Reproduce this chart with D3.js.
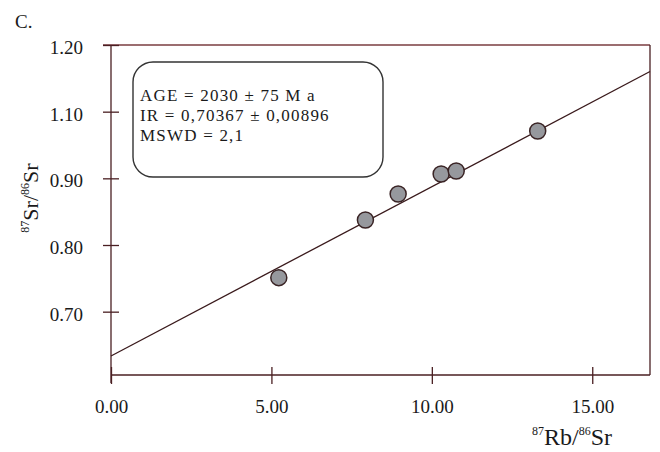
<!DOCTYPE html>
<html>
<head>
<meta charset="utf-8">
<script src="https://cdn.jsdelivr.net/npm/d3@7"></script>
<style>
  body { margin: 0; background: #fff; }
  text { font-family: "Liberation Serif", "Times New Roman", serif; fill: #1a1a1a; }
</style>
</head>
<body>
<svg id="isochron"></svg>
<script>
// data
const rbSr = [5.23, 7.93, 8.95, 10.29, 10.76, 13.30];
const srSr = [0.851, 0.9375, 0.9765, 1.0065, 1.011, 1.071];
const xTicks = [0, 5, 10, 15];
const xTickLabels = ['0.00', '5.00', '10.00', '15.00'];
const yTicks = [1.2, 1.1, 1.0, 0.9, 0.8];
const yTickLabels = ['1.20', '1.10', '0.90', '0.80', '0.70'];   // as printed on the original
const fitIntercept = 0.7335;
const fitSlope = 0.0254;
const infoLines = ['AGE = 2030 \u00b1 75 M a', 'IR = 0,70367 \u00b1 0,00896', 'MSWD = 2,1'];

const size = {w: 660, h: 452};
const plot = {l: 111, r: 650, t: 45, b: 375};
const axisColor = '#4a1f22';

const svg = d3.select('svg#isochron')
    .attr('width', size.w)
    .attr('height', size.h);

const x = d3.scaleLinear().domain([0, 16.8]).range([plot.l, plot.r]);
const y = d3.scaleLinear().domain([0.705, 1.2]).range([plot.b, plot.t]);

// frame
svg.append('line')
    .attr('x1', plot.l - 8).attr('x2', plot.r)
    .attr('y1', plot.t).attr('y2', plot.t)
    .attr('stroke', '#7a3c40').attr('stroke-width', 1.3);
svg.append('line')
    .attr('x1', plot.r).attr('x2', plot.r)
    .attr('y1', plot.t).attr('y2', plot.b)
    .attr('stroke', axisColor).attr('stroke-width', 1.3);
svg.append('line')
    .attr('x1', plot.l).attr('x2', plot.r)
    .attr('y1', plot.b).attr('y2', plot.b)
    .attr('stroke', axisColor).attr('stroke-width', 1.3);
svg.append('line')
    .attr('x1', plot.l).attr('x2', plot.l)
    .attr('y1', plot.t).attr('y2', plot.b + 8)
    .attr('stroke', axisColor).attr('stroke-width', 1.3);

// y axis
const yAxis = d3.axisLeft(y)
    .tickValues(yTicks)
    .tickFormat((d, i) => yTickLabels[i])
    .tickSizeInner(8)
    .tickSizeOuter(0)
    .tickPadding(20);

svg.append('g')
    .attr('transform', `translate(${plot.l},0)`)
    .call(yAxis)
    .call(g => g.select('.domain').remove())
    .call(g => g.selectAll('.tick line').attr('x1', -8).attr('x2', 8).attr('stroke', axisColor).attr('stroke-width', 1.3))
    .call(g => g.selectAll('.tick text')
        .attr('font-family', '"Liberation Serif", serif')
        .attr('font-size', 19)
        .attr('dy', '0.45em')
        .attr('fill', '#1a1a1a'));

// x axis
const xAxis = d3.axisBottom(x)
    .tickValues(xTicks)
    .tickFormat((d, i) => xTickLabels[i])
    .tickSizeInner(8)
    .tickSizeOuter(0)
    .tickPadding(17);

svg.append('g')
    .attr('transform', `translate(0,${plot.b})`)
    .call(xAxis)
    .call(g => g.select('.domain').remove())
    .call(g => g.selectAll('.tick line').attr('y1', -8).attr('y2', 9).attr('stroke', axisColor).attr('stroke-width', 1.3))
    .call(g => g.selectAll('.tick text')
        .attr('font-family', '"Liberation Serif", serif')
        .attr('font-size', 19)
        .attr('fill', '#1a1a1a'));

// isochron line
const xMax = x.domain()[1];
svg.append('line')
    .attr('x1', x(0)).attr('y1', y(fitIntercept))
    .attr('x2', x(xMax)).attr('y2', y(fitIntercept + fitSlope * xMax))
    .attr('stroke', '#3a1a1c').attr('stroke-width', 1.3);

// samples
svg.selectAll('circle.sample')
    .data(rbSr)
    .join('circle')
    .classed('sample', true)
    .attr('cx', d => x(d))
    .attr('cy', (d, i) => y(srSr[i]))
    .attr('r', 8)
    .attr('fill', '#96989d')
    .attr('stroke', '#3a2425')
    .attr('stroke-width', 1.5);

// info box
svg.append('rect')
    .attr('x', 133).attr('y', 62)
    .attr('width', 250).attr('height', 115)
    .attr('rx', 20).attr('ry', 20)
    .attr('fill', '#fff')
    .attr('stroke', '#333').attr('stroke-width', 1.4);

svg.selectAll('text.info')
    .data(infoLines)
    .join('text')
    .classed('info', true)
    .attr('x', 140)
    .attr('y', (d, i) => 101 + i * 20)
    .attr('font-size', 17)
    .attr('letter-spacing', 1.2)
    .text(d => d);

// panel letter
svg.append('text')
    .attr('x', 15).attr('y', 28)
    .attr('font-size', 19)
    .text('C.');

// axis titles
const xTitle = svg.append('text')
    .attr('x', 532).attr('y', 445)
    .attr('font-size', 24);
xTitle.append('tspan').attr('font-size', 12).attr('dy', -10).text('87');
xTitle.append('tspan').attr('dy', 10).text('Rb/');
xTitle.append('tspan').attr('font-size', 12).attr('dy', -10).text('86');
xTitle.append('tspan').attr('dy', 10).text('Sr');

const yTitle = svg.append('text')
    .attr('transform', 'translate(38,198) rotate(-90)')
    .attr('text-anchor', 'middle')
    .attr('font-size', 22);
yTitle.append('tspan').attr('font-size', 12).attr('dy', -9).text('87');
yTitle.append('tspan').attr('dy', 9).text('Sr/');
yTitle.append('tspan').attr('font-size', 12).attr('dy', -9).text('86');
yTitle.append('tspan').attr('dy', 9).text('Sr');
</script>
</body>
</html>
